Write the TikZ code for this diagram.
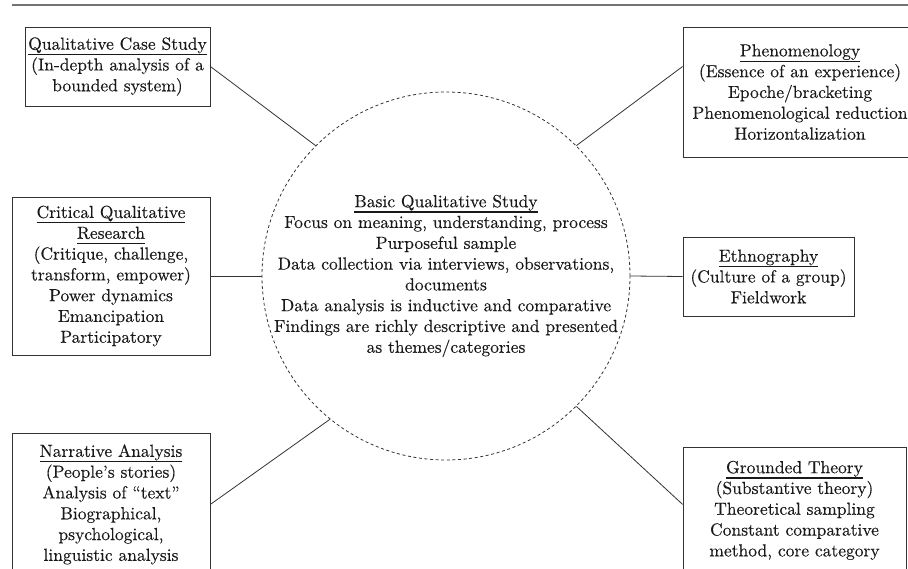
\documentclass[tikz,border=0pt]{standalone}
\usepackage{fontspec}
\setmainfont{lmroman10-regular}[Extension=.otf, FakeBold=0.25]
\usepackage{tikz}
\usetikzlibrary{positioning}
\newcommand{\Encabezado}[1]{\setbox0\hbox{#1}\leavevmode\rlap{\rule[-5.5pt]{\wd0}{1.2pt}}\box0}
\tikzstyle{ApproachBox}=[rectangle, draw=black!80, line width=0.8pt, align=center, inner sep=0pt, text=black!90]
\tikzstyle{BasicCircle}=[circle, draw=black!80, line width=0.8pt, dash pattern=on 3pt off 2.6pt, minimum size=368pt, inner sep=0pt]
\tikzstyle{BasicText}=[align=center, text=black!90]
\tikzstyle{Linea}=[-, draw=black!80, line width=0.8pt]
\tikzstyle{Regla}=[-, draw=black!55, line width=1.6pt]

\begin{document}
\begin{tikzpicture}[x=1pt, y=-1pt, font=\fontsize{17.5}{20.8}\selectfont]
	\useasboundingbox (0,0) rectangle (908,569);

	%Nodes
	\node[BasicCircle]	(basic)		at (446,276)	{};
	\node[BasicText]	(basic_txt)	at (446,276)	{\Encabezado{Basic Qualitative Study}\\
		Focus on meaning, understanding, process\\
		Purposeful sample\\
		Data collection via interviews, observations,\\
		documents\\
		Data analysis is inductive and comparative\\
		Findings are richly descriptive and presented\\
		as themes/categories};

	\node[ApproachBox, minimum width=185pt, minimum height=79pt]	(casestudy)	at (117.5,66.5)	{\Encabezado{Qualitative Case Study}\\(In-depth analysis of a\\bounded system)};
	\node[ApproachBox, minimum width=198pt, minimum height=158pt]	(critical)	at (111,276)	{\Encabezado{Critical Qualitative}\\\Encabezado{Research}\\(Critique, challenge,\\transform, empower)\\Power dynamics\\Emancipation\\Participatory};
	\node[ApproachBox, minimum width=198pt, minimum height=142pt, anchor=north]	(narrative)	at (111,433)	{\Encabezado{Narrative Analysis}\\(People\textquoteright s stories)\\Analysis of \textquotedblleft text\textquotedblright\\Biographical,\\psychological,\\linguistic analysis};

	\node[ApproachBox, minimum width=234pt, minimum height=130pt]	(phenomenology)	at (800,92)	{\Encabezado{Phenomenology}\\(Essence of an experience)\\Epoche/bracketing\\Phenomenological reduction\\Horizontalization};
	\node[ApproachBox, minimum width=171pt, minimum height=79pt]	(ethnography)	at (768.5,276.5)	{\Encabezado{Ethnography}\\(Culture of a group)\\Fieldwork};
	\node[ApproachBox, minimum width=223pt, minimum height=126pt, anchor=north]	(grounded)	at (794.5,447)	{\Encabezado{Grounded Theory}\\(Substantive theory)\\Theoretical sampling\\Constant comparative\\method, core category};

	%Lines
	\coordinate (rule_left) at (12,5);
	\coordinate (rule_right) at (908,5);
	\draw[Regla] (rule_left) -- (rule_right);

	\draw[Linea] (casestudy.east) -- (basic.135);
	\draw[Linea] (critical.east) -- (basic.west);
	\draw[Linea] (narrative.east) -- (basic.231);
	\draw[Linea] (phenomenology.west |- casestudy.east) -- (basic.45);
	\draw[Linea] (ethnography.west) -- (basic.east);
	\draw[Linea] (grounded.west |- narrative.east) -- (basic.-45);

\end{tikzpicture}
\end{document}
